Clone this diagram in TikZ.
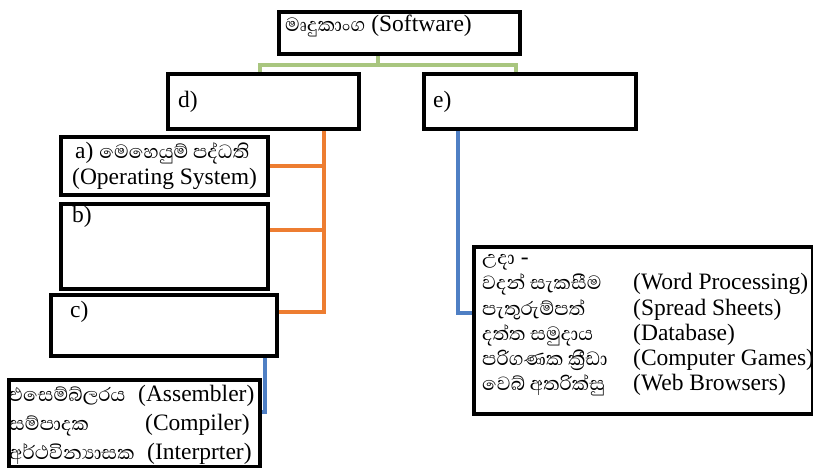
\documentclass[tikz,border=0pt]{standalone}
\usepackage{fontspec}
\setmainfont{Liberation Serif}
\newfontfamily\sinhfont[Script=Sinhala,Scale=1.04]{Abhaya Libre}
\newcommand{\snh}[1]{{\sinhfont #1}}
\definecolor{grn}{HTML}{A9C67F}
\definecolor{org}{HTML}{ED7D31}
\definecolor{blu}{HTML}{4F7FC4}
\begin{document}
\begin{tikzpicture}[x=1pt,y=-1pt,
  box/.style={draw, line width=3.8pt, inner sep=0, anchor=north west, fill=none},
  txt/.style={inner sep=0, anchor=base west, font=\fontsize{23.5}{25}\selectfont},
  gline/.style={draw=grn, line width=3.2pt},
  oline/.style={draw=org, line width=3.2pt},
  bline/.style={draw=blu, line width=3.2pt}]
\useasboundingbox (0,0) rectangle (813,468);
\coordinate (gL) at (260,65);
\coordinate (gM) at (378,65);
\coordinate (gR) at (516,65);
\coordinate (ob) at (324,230);
\coordinate (oc) at (324,312);
\coordinate (bc) at (265,412);
\coordinate (be) at (458,313);
% boxes
\node[box, minimum width=241pt, minimum height=42pt] (top) at (277,10) {};
\node[box, minimum width=191pt, minimum height=55pt] (d) at (166,72) {};
\node[box, minimum width=212pt, minimum height=55pt] (e) at (422,72) {};
\node[box, minimum width=207pt, minimum height=58pt] (a) at (59,135) {};
\node[box, minimum width=207pt, minimum height=85pt] (b) at (59,202) {};
\node[box, minimum width=226pt, minimum height=61pt] (c) at (49,293) {};
\node[box, minimum width=251pt, minimum height=87pt] (asm) at (7,378) {};
\node[box, minimum width=339pt, minimum height=167pt] (ex) at (472,245) {};
% texts
\node[txt] (ttop) at (285,32) {\snh{මෘදුකාංග} (Software)};
\node[txt] (td) at (178,107) {d)};
\node[txt] (te) at (433,107) {e)};
\node[txt] (ta1) at (75,158) {a) \snh{මෙහෙයුම් පද්ධති}};
\node[txt] (ta2) at (72,184) {(Operating System)};
\node[txt] (tb) at (72,222) {b)};
\node[txt] (tc) at (70,317) {c)};
\node[txt] (s1) at (9,401) {\snh{එසෙම්බ්ලරය}};
\node[txt] (e1) at (138,401) {(Assembler)};
\node[txt] (s2) at (9,430) {\snh{සම්පාදක}};
\node[txt] (e2) at (145,430) {(Compiler)};
\node[txt] (s3) at (9,459) {\snh{අර්ථවින්^^^^200dයාසක}};
\node[txt] (e3) at (147,459) {(Interprter)};
\node[txt] (x0) at (482,264) {\snh{උදා} -};
\node[txt] (x1) at (482,289) {\snh{වදන් සැකසීම}};
\node[txt] (y1) at (633,289) {(Word Processing)};
\node[txt] (x2) at (482,315) {\snh{පැතුරුම්පත්}};
\node[txt] (y2) at (633,315) {(Spread Sheets)};
\node[txt] (x3) at (482,340) {\snh{දත්ත සමුදාය}};
\node[txt] (y3) at (633,340) {(Database)};
\node[txt] (x4) at (482,365) {\snh{පරිගණක ක්^^^^200dරීඩා}};
\node[txt] (y4) at (633,365) {(Computer Games)};
\node[txt] (x5) at (482,390) {\snh{වෙබ් අතරික්සු}};
\node[txt] (y5) at (633,390) {(Web Browsers)};
% connectors
\draw[gline] (gM|-top.south) -- (gM);
\draw[gline] (gL|-d.north) -- (gL) -- (gR) -- (gR|-e.north);
\draw[oline] (oc|-d.south) -- (oc) -- (oc-|c.east);
\draw[oline] (a.east) -- (a.east-|oc);
\draw[oline] (ob-|b.east) -- (ob);
\draw[bline] (bc|-c.south) -- (bc) -- (bc-|asm.east);
\draw[bline] (be|-e.south) -- (be) -- (be-|ex.west);
\end{tikzpicture}
\end{document}
